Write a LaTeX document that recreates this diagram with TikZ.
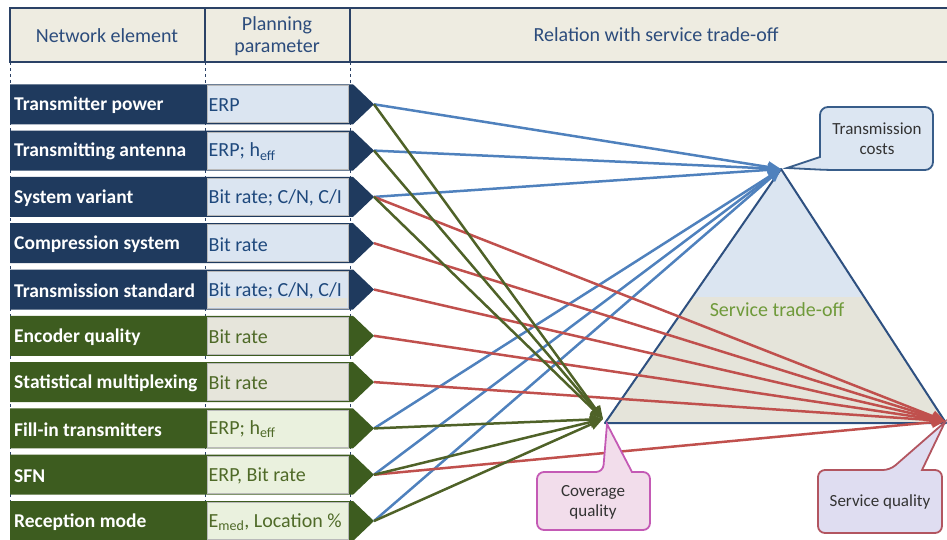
\documentclass[tikz,border=0pt]{standalone}
\usepackage{fontspec}
\setmainfont{Carlito}
\usetikzlibrary{arrows.meta}
\definecolor{rownavy}{HTML}{1F3A5E}
\definecolor{rowgreen}{HTML}{3D5C1F}
\definecolor{pblue}{HTML}{DBE5F1}
\definecolor{pbeige}{HTML}{E6E5DB}
\definecolor{pgreen}{HTML}{EAF1DE}
\definecolor{tblue}{HTML}{1F497D}
\definecolor{tgreen}{HTML}{4F6A28}
\definecolor{hdrfill}{HTML}{EEECE1}
\definecolor{hdrline}{HTML}{2B4266}
\definecolor{hdrtext}{HTML}{2C4C7C}
\definecolor{lblue}{HTML}{4F81BD}
\definecolor{lgreen}{HTML}{4F6228}
\definecolor{lred}{HTML}{C0504D}
\definecolor{tritop}{HTML}{DBE5F1}
\definecolor{tribot}{HTML}{E5E4DA}
\definecolor{triline}{HTML}{2E5080}
\definecolor{tritext}{HTML}{6F9A3A}
\definecolor{costfill}{HTML}{DCE6F2}
\definecolor{costline}{HTML}{385D8A}
\definecolor{covfill}{HTML}{F2DDEB}
\definecolor{covline}{HTML}{C45AB5}
\definecolor{sqfill}{HTML}{DFDDF1}
\definecolor{sqline}{HTML}{B25560}
\tikzset{
  hdrbox/.style={draw=hdrline, line width=2pt, fill=hdrfill},
  hdrtxt/.style={text=hdrtext, font=\fontsize{20}{22}\selectfont, align=center, inner sep=0pt},
  labtxt/.style={anchor=west, text=white, font=\bfseries\fontsize{19.5}{21}\selectfont, inner sep=0pt},
  partxt/.style={anchor=west, font=\fontsize{20}{22}\selectfont, inner sep=0pt},
  parbox/.style={draw=gray!55, line width=0.8pt, minimum width=141pt, minimum height=37pt, inner sep=0pt},
  conn/.style={line width=2.5pt, -{Triangle[length=13pt,width=11pt]}},
  bl/.style={conn, draw=lblue},
  gl/.style={conn, draw=lgreen},
  rl/.style={conn, draw=lred},
  calltxt/.style={font=\fontsize{17}{20}\selectfont, align=center, inner sep=0pt, text=black!80}
}
\begin{document}
\begin{tikzpicture}[x=1pt,y=-1pt]
\clip (0,0) rectangle (947,539);
% dashed guides
\foreach \xx in {10,205,350} \draw[hdrline, dashed, line width=0.8pt] (\xx,62) -- (\xx,539);
% header
\draw[hdrbox] (10,8) rectangle (965,62);
\draw[hdrline, line width=2pt] (205,8) -- (205,62) (350,8) -- (350,62);
\node[hdrtxt] (hne) at (107,36) {Network element};
\node[hdrtxt] (hpp) at (277,36) {Planning\\parameter};
\node[hdrtxt] (hrel) at (656,35) {Relation with service trade-off};
% rows
\foreach \i/\lab/\pp/\rc/\bc/\tc in {
 1/Transmitter power/ERP/rownavy/pblue/tblue,
 2/Transmitting antenna/{ERP; h\textsubscript{eff}}/rownavy/pblue/tblue,
 3/System variant/{Bit rate; C/N, C/I}/rownavy/pblue/tblue,
 4/Compression system/Bit rate/rownavy/pblue/tblue,
 5/Transmission standard/{Bit rate; C/N, C/I}/rownavy/pblue/tblue,
 6/Encoder quality/Bit rate/rowgreen/pbeige/tgreen,
 7/Statistical multiplexing/Bit rate/rowgreen/pbeige/tgreen,
 8/Fill-in transmitters/{ERP; h\textsubscript{eff}}/rowgreen/pgreen/tgreen,
 9/SFN/{ERP, Bit rate}/rowgreen/pgreen/tgreen,
 10/Reception mode/{E\textsubscript{med}, Location \%}/rowgreen/pgreen/tgreen}{
  \pgfmathsetmacro\yc{104.3+46.3*(\i-1)}
  \fill[\rc] (10,\yc-20) -- (353,\yc-20) -- (374,\yc) -- (353,\yc+20) -- (10,\yc+20) -- cycle;
  \node[parbox, fill=\bc] (pb\i) at (277.5,\yc) {};
  \ifnum\i=5 \fill[pbeige] (207.6,\yc+8) rectangle (347.4,\yc+17.6); \fi
  \node[partxt, text=\tc] (pt\i) at (208.5,\yc+1) {\pp};
  \node[labtxt] (lab\i) at (14,\yc+1) {\lab};
  \coordinate (tip\i) at (374,\yc);
}
% triangle
\coordinate (tA) at (781,169);
\coordinate (tB) at (605,423);
\coordinate (tC) at (946,423);
\begin{scope}
 \clip (tA) -- (tB) -- (tC) -- cycle;
 \fill[tribot] (550,150) rectangle (960,430);
 \fill[tritop] (550,150) rectangle (960,297);
\end{scope}
\draw[triline, line width=2pt, line join=round] (tA) -- (tB) -- (tC) -- cycle;
\node[text=tritext, font=\fontsize{20}{22}\selectfont, inner sep=0pt] (sto) at (777,310) {Service trade-off};
% targets
\coordinate (tc) at (781,169);
\coordinate (cq) at (603,419);
\coordinate (sq) at (945,421);
% connectors
\foreach \s in {1,2,3,8,9,10} \draw[bl] (tip\s) -- (tc);
\foreach \s in {3,4,5,6,7,9} \draw[rl] (tip\s) -- (sq);
\foreach \s in {1,2,3,8,9,10} \draw[gl] (tip\s) -- (cq);
% callouts
\draw[draw=costline, fill=costfill, line width=1.8pt]
  (820,140) [rounded corners=8pt] -- (820,107) -- (933,107) -- (933,170) -- (828,170)
  [sharp corners] -- (787,168) -- (820,157) -- cycle;
\node[calltxt] (costs) at (877,139) {Transmission\\costs};
\draw[draw=covline, fill=covfill, line width=1.8pt]
  (537,500) [rounded corners=7pt] -- (537,472) -- (603,472)
  [sharp corners] -- (607,424) -- (632,472)
  [rounded corners=7pt] -- (650,472) -- (650,530) -- (537,530) -- cycle;
\node[calltxt] (cov) at (593,502) {Coverage\\quality};
\draw[draw=sqline, fill=sqfill, line width=1.8pt]
  (818,500) [rounded corners=7pt] -- (818,470) -- (890,470)
  [sharp corners] -- (945,422) -- (922,470)
  [rounded corners=7pt] -- (942,470) -- (942,533) -- (818,533) -- cycle;
\node[calltxt] (sqt) at (880,502) {Service quality};
\end{tikzpicture}
\end{document}
